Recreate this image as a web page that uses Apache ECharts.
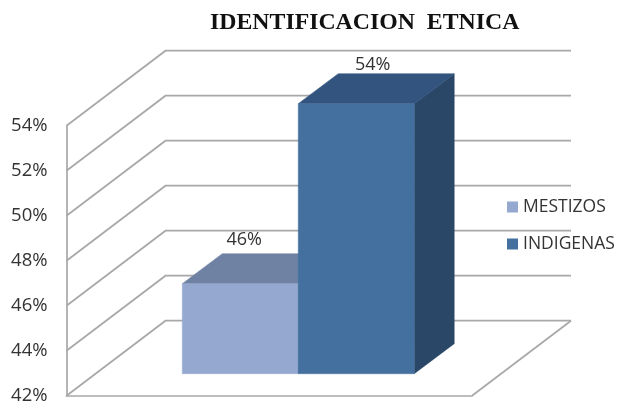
<!DOCTYPE html>
<html><head><meta charset="utf-8">
<style>html,body{margin:0;padding:0;background:#fff}#c{width:617px;height:403px}</style>
<script src="https://cdn.jsdelivr.net/npm/echarts@6/dist/echarts.min.js"></script>
</head><body><div id="c"></div>
<script>
const categories = ['ETNIA'];
const seriesNames = ['MESTIZOS', 'INDIGENAS'];
const mestizos = [46];
const indigenas = [54];
const yTicks = [42, 44, 46, 48, 50, 52, 54];

const DEPTH = [99, -75], INSET = [29, -22], BAR_DEPTH = [40, -30];
const BAR_FRACTION = 0.286, GRID_COLOR = '#a8a8a8', TEXT_COLOR = '#333333', LINE_WIDTH = 1.7;
const FONT = '"Open Sans", "Noto Sans", sans-serif';
const SHADES = [
  { front: '#95a8d0', top: '#6f82a4', side: '#5d6f8f', labelDx: 4, labelDy: -14 },
  { front: '#44709f', top: '#32547f', side: '#2b4767', labelDx: 16.5, labelDy: -9 }
];
const chart = echarts.init(document.getElementById('c'), null, { renderer: 'canvas' });

function wall(params, api) {
  const v = api.value(1);
  const start = api.coord([0, v]);
  const band = api.size([1, 0])[0];
  const left = start[0] - band / 2, right = start[0] + band / 2, y = start[1];
  const style = { stroke: GRID_COLOR, lineWidth: LINE_WIDTH, fill: null };
  const children = [{ type: 'polyline', shape: { points: [[left, y], [left + DEPTH[0], y + DEPTH[1]], [right + DEPTH[0], y + DEPTH[1]]] }, style }];
  if (params.dataIndex === 0) {
    children.push({ type: 'line', shape: { x1: right, y1: y, x2: right + DEPTH[0], y2: y + DEPTH[1] }, style });
  }
  return { type: 'group', children };
}

function bar3d(idx) {
  return function (params, api) {
    const v = api.value(1);
    const top = api.coord([0, v]);
    const base = api.coord([0, yTicks[0]]);
    const w = api.size([1, 0])[0] * BAR_FRACTION;
    const x0 = top[0] + INSET[0] + (idx - 1) * w, x1 = x0 + w;
    const yt = top[1] + INSET[1], yb = base[1] + INSET[1];
    const dx = BAR_DEPTH[0], dy = BAR_DEPTH[1], s = SHADES[idx];
    const poly = (points, fill) => ({ type: 'polygon', shape: { points }, style: { fill, stroke: fill, lineWidth: 0.5 } });
    return {
      type: 'group',
      children: [
        poly([[x1, yt], [x1 + dx, yt + dy], [x1 + dx, yb + dy], [x1, yb]], s.side),
        poly([[x0, yt], [x0 + dx, yt + dy], [x1 + dx, yt + dy], [x1, yt]], s.top),
        poly([[x0, yt], [x1, yt], [x1, yb], [x0, yb]], s.front),
        { type: 'text', style: {
            text: v + '%', x: (x0 + x1) / 2 + s.labelDx, y: yt + dy + s.labelDy,
            align: 'center', verticalAlign: 'middle',
            font: '18px ' + FONT, fill: TEXT_COLOR } }
      ]
    };
  };
}

chart.setOption({
  animation: false,
  backgroundColor: '#fff',
  title: {
    text: 'IDENTIFICACION  ETNICA', left: 205, top: 6,
    textStyle: { fontFamily: '"Liberation Serif", serif', fontWeight: 'bold', fontSize: 23.8, color: '#111' }
  },
  legend: {
    data: seriesNames, orient: 'vertical', left: 507, top: 198, itemWidth: 11, itemHeight: 11, itemGap: 19,
    icon: 'rect', textStyle: { fontFamily: FONT, fontSize: 17.5, color: TEXT_COLOR }, padding: 0
  },
  grid: { left: 66.5, top: 125.7, width: 405.5, height: 270, outerBoundsMode: 'none' },
  xAxis: {
    type: 'category', data: categories,
    axisLine: { show: true, lineStyle: { color: GRID_COLOR, width: LINE_WIDTH } },
    axisTick: { show: false }, axisLabel: { show: false }
  },
  yAxis: {
    type: 'value', min: yTicks[0], max: yTicks[yTicks.length - 1], interval: 2,
    axisLine: { show: true, lineStyle: { color: GRID_COLOR, width: LINE_WIDTH } },
    axisTick: { show: false }, splitLine: { show: false },
    axisLabel: { formatter: '{value}%', margin: 19, fontFamily: FONT, fontSize: 18.5, color: TEXT_COLOR, padding: [2, 0, 0, 0] }
  },
  series: [
    { type: 'custom', name: 'walls', data: yTicks.map(t => [0, t]), renderItem: wall, encode: { x: 0, y: 1 }, silent: true, z: 1 },
    { type: 'custom', name: seriesNames[0], data: mestizos.map((v, i) => [i, v]), renderItem: bar3d(0), encode: { x: 0, y: 1 }, itemStyle: { color: SHADES[0].front }, z: 2 },
    { type: 'custom', name: seriesNames[1], data: indigenas.map((v, i) => [i, v]), renderItem: bar3d(1), encode: { x: 0, y: 1 }, itemStyle: { color: SHADES[1].front }, z: 3 }
  ]
});
</script></body></html>
